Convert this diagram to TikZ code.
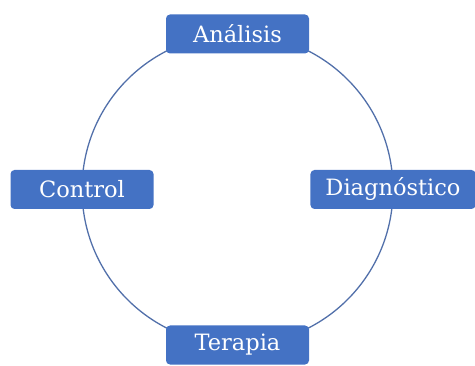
\documentclass[tikz,border=0pt]{standalone}
\usepackage{fontspec}
\setmainfont{DejaVu Serif}
\usetikzlibrary{backgrounds}
\definecolor{boxblue}{HTML}{4472C4}
\definecolor{ringblue}{HTML}{5270AA}
\tikzset{
  stage/.style={fill=boxblue,text=white,rounded corners=4pt,minimum width=143pt,
    minimum height=39pt,inner xsep=15pt,font=\fontsize{22.5}{26}\selectfont},
  ring/.style={draw=ringblue,line width=1.3pt}
}
\begin{document}
\begin{tikzpicture}
    \useasboundingbox (0,0) rectangle (475pt,365pt);
    \coordinate (mid) at (237.5pt,175.5pt);
    \foreach \ang/\name/\txt in {90/ana/Análisis,0/dia/Diagnóstico,270/ter/Terapia,180/con/Control}
    \node[stage] (\name) at ([shift={(\ang:155.5pt)}]mid) {\txt};
    \begin{scope}[on background layer]
    \draw[ring] (ana.center) to[out=0,in=90] (dia.center);
    \draw[ring] (dia.center) to[out=270,in=0] (ter.center);
    \draw[ring] (ter.center) to[out=180,in=270] (con.center);
    \draw[ring] (con.center) to[out=90,in=180] (ana.center);
    \end{scope}
  \end{tikzpicture}
\end{document}
